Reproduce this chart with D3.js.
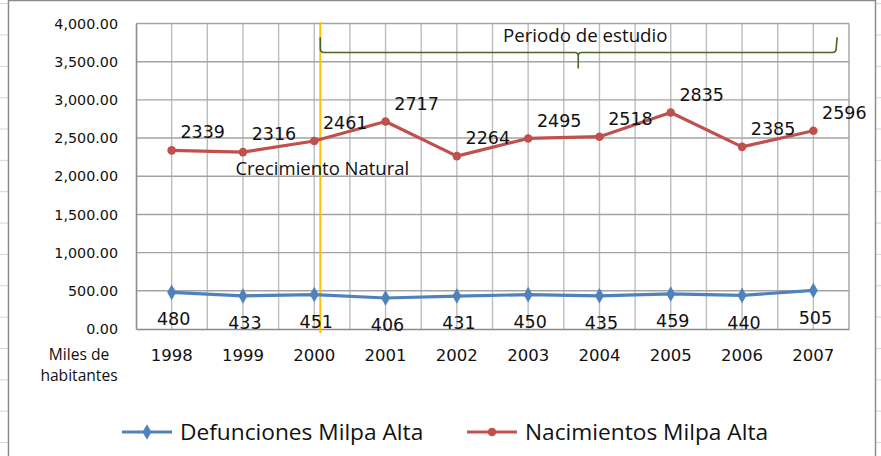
<!DOCTYPE html>
<html>
<head>
<meta charset="utf-8">
<script src="https://cdn.jsdelivr.net/npm/d3@7/dist/d3.min.js"></script>
<style>
  body { margin: 0; background: #fff; }
  svg { display: block; }
</style>
</head>
<body>
<svg id="chart" width="881" height="456"></svg>
<script>
// Milpa Alta: births and deaths per year
const years = ["1998", "1999", "2000", "2001", "2002", "2003", "2004", "2005", "2006", "2007"];
const defunciones = [480, 433, 451, 406, 431, 450, 435, 459, 440, 505];
const nacimientos = [2339, 2316, 2461, 2717, 2264, 2495, 2518, 2835, 2385, 2596];
const yTicks = [0, 500, 1000, 1500, 2000, 2500, 3000, 3500, 4000];
const seriesNames = ["Defunciones Milpa Alta", "Nacimientos Milpa Alta"];
const axisTitleLines = ["Miles de", "habitantes"];
const periodLabel = "Periodo de estudio";
const growthLabel = "Crecimiento Natural";
// study period: from 2000 to 2007, bracket drawn in value units
const periodStart = "2000", periodEnd = "2007";
const bracketLevels = { top: 3820, bar: 3620, tip: 3410 };
const periodLabelLevel = 3845;
const growthLabelLevel = 2105;

const W = 881, H = 456;
const svg = d3.select("#chart");
const numFont = "'DejaVu Sans', Verdana, sans-serif";
const txtFont = "'Open Sans', Lato, sans-serif";
const blue = "#4F81BD", red = "#C0504D";

// spreadsheet cells showing around the chart object
const rowLines = d3.range(3.6, H, 31.35);
svg.append("g").selectAll("line").data(rowLines).join("line")
  .attr("x1", 0).attr("x2", W).attr("y1", d => d).attr("y2", d => d)
  .attr("stroke", "#d6d6d6").attr("stroke-width", 1);

// chart object frame
svg.append("rect")
  .attr("x", 8.5).attr("y", 0.5).attr("width", 867).attr("height", H + 20)
  .attr("fill", "#fff").attr("stroke", "#8c8c8c").attr("stroke-width", 1.5);

const plot = { left: 136, right: 849, top: 23.5, bottom: 329 };
const x = d3.scaleBand().domain(years).range([plot.left, plot.right]).padding(0);
const bw = x.bandwidth();
const cx = d => x(d) + bw / 2;
const y = d3.scaleLinear().domain([0, 4000]).range([plot.bottom, plot.top]);

// vertical gridlines at band edges and centers
const vLines = [];
years.forEach(yr => { vLines.push(x(yr)); vLines.push(cx(yr)); });
svg.append("g").selectAll("line").data(vLines.slice(1)).join("line")
  .attr("x1", d => d).attr("x2", d => d)
  .attr("y1", plot.top).attr("y2", plot.bottom)
  .attr("stroke", "#bdbdbd").attr("stroke-width", 1.4);

// horizontal gridlines
svg.append("g").selectAll("line").data(yTicks.slice(1)).join("line")
  .attr("x1", plot.left).attr("x2", plot.right)
  .attr("y1", d => y(d)).attr("y2", d => y(d))
  .attr("stroke", "#a3a3a3").attr("stroke-width", 1.4);

// plot border on the right
svg.append("line")
  .attr("x1", plot.right).attr("x2", plot.right)
  .attr("y1", plot.top).attr("y2", plot.bottom)
  .attr("stroke", "#a3a3a3").attr("stroke-width", 1.4);

// axes
const yAxis = d3.axisLeft(y).tickValues(yTicks).tickFormat(d3.format(",.2f"))
  .tickSize(0).tickPadding(18);
const gy = svg.append("g").attr("transform", `translate(${plot.left},0)`).call(yAxis);
gy.select(".domain").attr("stroke", "#8c8c8c").attr("stroke-width", 1.6);
gy.selectAll("text").attr("font-family", numFont).attr("font-size", 14.3).attr("fill", "#111");

const xAxis = d3.axisBottom(x).tickSize(0).tickPadding(20);
const gx = svg.append("g").attr("transform", `translate(0,${plot.bottom})`).call(xAxis);
gx.select(".domain").attr("stroke", "#8c8c8c").attr("stroke-width", 1.6);
gx.selectAll("text").attr("font-family", numFont).attr("font-size", 16.5).attr("fill", "#111");

// axis title under the value axis
svg.append("g").selectAll("text").data(axisTitleLines).join("text")
  .attr("x", 79).attr("y", (d, i) => 355 + i * 21)
  .attr("dy", "0.35em").attr("text-anchor", "middle")
  .attr("font-family", txtFont).attr("font-size", 15.6).attr("fill", "#111")
  .text(d => d);

// marker for the start of the study period
const periodX = cx(periodStart) + bw * 0.085;
svg.append("line")
  .attr("x1", periodX).attr("x2", periodX)
  .attr("y1", y(4000) - 1.5).attr("y2", plot.bottom + 4)
  .attr("stroke", "#FFC000").attr("stroke-width", 2);

// curly bracket spanning the study period
const bx0 = periodX, bx1 = cx(periodEnd) + bw * 0.32, bxm = (bx0 + bx1) / 2;
const yt = y(bracketLevels.top), yb = y(bracketLevels.bar), ytip = y(bracketLevels.tip);
const br = d3.path();
br.moveTo(bx0, yt);
br.lineTo(bx0, yb - 4);
br.quadraticCurveTo(bx0, yb, bx0 + 4, yb);
br.lineTo(bxm - 3, yb);
br.quadraticCurveTo(bxm, yb, bxm, yb + 4);
br.lineTo(bxm, ytip);
br.moveTo(bxm, yb + 4);
br.quadraticCurveTo(bxm, yb, bxm + 3, yb);
br.lineTo(bx1 - 4, yb);
br.quadraticCurveTo(bx1, yb, bx1, yb - 4);
br.lineTo(bx1 + 1, yt);
svg.append("path").attr("d", br.toString())
  .attr("fill", "none").attr("stroke", "#4F6228").attr("stroke-width", 1.6);

svg.append("text")
  .attr("x", bxm + 7).attr("y", y(periodLabelLevel)).attr("dy", "0.35em")
  .attr("text-anchor", "middle")
  .attr("font-family", txtFont).attr("font-size", 18.7).attr("fill", "#111")
  .text(periodLabel);

svg.append("text")
  .attr("x", periodX + 2).attr("y", y(growthLabelLevel)).attr("dy", "0.35em")
  .attr("text-anchor", "middle")
  .attr("font-family", txtFont).attr("font-size", 18.5).attr("fill", "#111")
  .text(growthLabel);

// series
const line = d3.line().x((d, i) => cx(years[i])).y(d => y(d));

svg.append("path").datum(nacimientos).attr("d", line)
  .attr("fill", "none").attr("stroke", red).attr("stroke-width", 3.2)
  .attr("stroke-linejoin", "round");
svg.append("g").selectAll("circle").data(nacimientos).join("circle")
  .attr("cx", (d, i) => cx(years[i])).attr("cy", d => y(d)).attr("r", 4.3)
  .attr("fill", red);

svg.append("path").datum(defunciones).attr("d", line)
  .attr("fill", "none").attr("stroke", blue).attr("stroke-width", 3.2)
  .attr("stroke-linejoin", "round");
const diamond = d3.symbol().type(d3.symbolDiamond).size(70);
svg.append("g").selectAll("path").data(defunciones).join("path")
  .attr("d", diamond)
  .attr("transform", (d, i) => `translate(${cx(years[i])},${y(d)})`)
  .attr("fill", blue);

// value labels
svg.append("g").selectAll("text").data(nacimientos).join("text")
  .attr("x", (d, i) => cx(years[i]) + 31).attr("y", d => y(d) - 18)
  .attr("dy", "0.35em").attr("text-anchor", "middle")
  .attr("font-family", numFont).attr("font-size", 17.5).attr("fill", "#111")
  .text(d => d);

svg.append("g").selectAll("text").data(defunciones).join("text")
  .attr("x", (d, i) => cx(years[i]) + 2).attr("y", d => y(d) + 27)
  .attr("dy", "0.35em").attr("text-anchor", "middle")
  .attr("font-family", numFont).attr("font-size", 17.5).attr("fill", "#111")
  .text(d => d);

// legend
const legendItems = [
  { name: seriesNames[0], color: blue, marker: "diamond", x: 122 },
  { name: seriesNames[1], color: red, marker: "circle", x: 467 }
];
const lg = svg.append("g").attr("transform", "translate(0,432)");
const li = lg.selectAll("g").data(legendItems).join("g")
  .attr("transform", d => `translate(${d.x},0)`);
li.append("line").attr("x1", 0).attr("x2", 50).attr("y1", 0).attr("y2", 0)
  .attr("stroke", d => d.color).attr("stroke-width", 3.2);
li.each(function (d) {
  const g = d3.select(this);
  if (d.marker === "circle") {
    g.append("circle").attr("cx", 25).attr("cy", 0).attr("r", 4.3).attr("fill", d.color);
  } else {
    g.append("path").attr("d", diamond).attr("transform", "translate(25,0)").attr("fill", d.color);
  }
});
li.append("text").attr("x", 58).attr("y", 0).attr("dy", "0.35em")
  .attr("font-family", txtFont).attr("font-size", 22.7).attr("fill", "#111")
  .text(d => d.name);
</script>
</body>
</html>
